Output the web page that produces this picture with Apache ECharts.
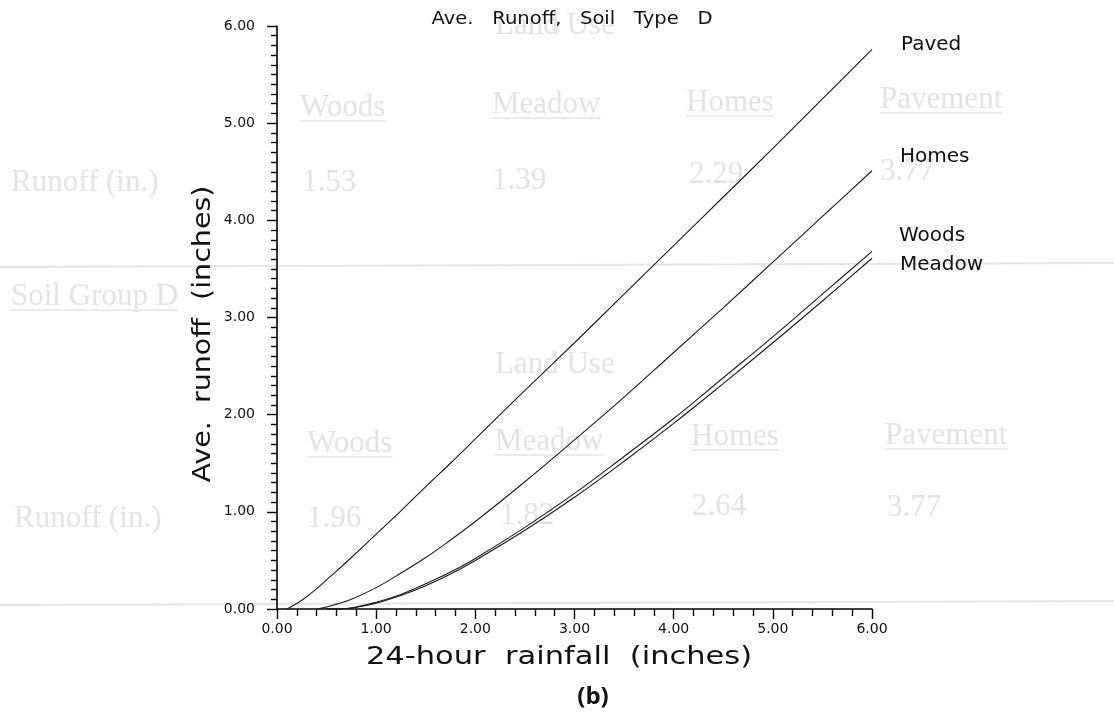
<!DOCTYPE html>
<html>
<head>
<meta charset="utf-8">
<script src="https://cdn.jsdelivr.net/npm/echarts@6/dist/echarts.min.js"></script>
<style>
  html, body { margin: 0; padding: 0; background: #ffffff; }
  #chart { width: 1114px; height: 719px; }
</style>
</head>
<body>
<div id="chart"></div>
<script>
// ---- data ----
const rain   = [0, 0.1, 0.25, 0.4, 0.5, 0.6, 0.75, 1, 1.25, 1.5, 1.75, 2, 2.5, 3, 3.5, 4, 4.5, 5, 5.5, 6];
const paved  = [null, 0, 0.09, 0.21, 0.30, 0.39, 0.53, 0.77, 1.01, 1.26, 1.5, 1.75, 2.25, 2.74, 3.24, 3.74, 4.24, 4.74, 5.25, 5.76];
const homes  = [null, null, null, 0, 0.02, 0.05, 0.10, 0.22, 0.37, 0.53, 0.71, 0.90, 1.31, 1.74, 2.18, 2.64, 3.10, 3.57, 4.04, 4.51];
const woods  = [null, null, null, null, 0, 0, 0.01, 0.07, 0.15, 0.26, 0.38, 0.52, 0.84, 1.19, 1.57, 1.96, 2.38, 2.80, 3.24, 3.68];
const meadow = [null, null, null, null, 0, 0, 0.01, 0.06, 0.14, 0.24, 0.36, 0.50, 0.81, 1.15, 1.52, 1.91, 2.32, 2.74, 3.17, 3.61];
const seriesNames = ['Paved', 'Homes', 'Woods', 'Meadow'];
const titleText = 'Ave.   Runoff,   Soil   Type   D';
const xName = '24-hour  rainfall  (inches)';
const yName = 'Ave.  runoff  (inches)';
const panelLabel = '(b)';

// faint background table showing through the scanned page: [text, left, centreY, underlined]
const ghostTexts = [
  ['Land Use', 495, 26, false],
  ['Woods', 300, 108, true], ['Meadow', 492, 105, true], ['Homes', 686, 103, true], ['Pavement', 880, 100, true],
  ['Runoff (in.)', 11, 183, false], ['1.53', 302, 183, false], ['1.39', 492, 181, false], ['2.29', 689, 175, false], ['3.77', 880, 172, false],
  ['Soil Group D', 11, 297, true],
  ['Land Use', 495, 365, false],
  ['Woods', 307, 444, true], ['Meadow', 495, 442, true], ['Homes', 691, 437, true], ['Pavement', 885, 436, true],
  ['Runoff (in.)', 14, 519, false], ['1.96', 307, 519, false], ['1.82', 500, 516, false], ['2.64', 692, 507, false], ['3.77', 887, 508, false]
];
const ghostLines = [267, 605];

function pairs(vals) {
  const out = [];
  rain.forEach((r, i) => { if (vals[i] !== null) out.push([r, vals[i]]); });
  return out;
}

const FONT = 'DejaVu Sans';
const GHOST_FONT = '31px "Liberation Serif"';
const measureCtx = document.createElement('canvas').getContext('2d');
measureCtx.font = GHOST_FONT;

const chart = echarts.init(document.getElementById('chart'), null, { renderer: 'canvas' });

const graphics = [];
ghostTexts.forEach(([t, x, y, ul]) => {
  graphics.push({
    type: 'text', x: x, y: y, z: -10, silent: true,
    style: { text: t, font: GHOST_FONT, fill: '#e3e3e3', align: 'left', verticalAlign: 'middle' }
  });
  if (ul) {
    const w = measureCtx.measureText(t).width;
    graphics.push({
      type: 'line', z: -10, silent: true,
      shape: { x1: x, y1: y + 13, x2: x + w, y2: y + 13 },
      style: { stroke: '#e4e4e4', lineWidth: 1.5 }
    });
  }
});
ghostLines.forEach(y => {
  graphics.push({
    type: 'line', z: -10, silent: true,
    shape: { x1: 0, y1: y, x2: 1114, y2: y - 4 },
    style: { stroke: '#e6e6e6', lineWidth: 2 }
  });
});
// title
graphics.push({
  type: 'text', x: 572, y: 20, z: 10, scaleX: 1.15,
  style: { text: titleText, font: '17px "DejaVu Sans"', fill: '#111', align: 'center', verticalAlign: 'middle' }
});
// axis names
graphics.push({
  type: 'text', x: 559, y: 657, z: 10, scaleX: 1.22,
  style: { text: xName, font: '25px "DejaVu Sans"', fill: '#111', align: 'center', verticalAlign: 'middle' }
});
graphics.push({
  type: 'text', x: 203, y: 334, z: 10, scaleX: 1.14, rotation: Math.PI / 2,
  style: { text: yName, font: '25px "DejaVu Sans"', fill: '#111', align: 'center', verticalAlign: 'middle' }
});
// panel label
graphics.push({
  type: 'text', x: 593, y: 697, z: 10,
  style: { text: panelLabel, font: 'bold 24px "Open Sans"', fill: '#111', align: 'center', verticalAlign: 'middle' }
});

const labelOffsets = { Paved: [29, -5], Homes: [28, -14], Woods: [27, -16], Meadow: [28, 7] };
const valuesByName = { Paved: paved, Homes: homes, Woods: woods, Meadow: meadow };

chart.setOption({
  animation: false,
  backgroundColor: '#ffffff',
  grid: { left: 277, right: 242, top: 26, bottom: 110, containLabel: false },
  xAxis: {
    type: 'value', min: 0, max: 6, interval: 1,
    axisLine: { show: true, lineStyle: { color: '#000', width: 1.6 } },
    axisTick: { show: true, length: 10, lineStyle: { color: '#000', width: 1.4 } },
    minorTick: { show: true, splitNumber: 5, length: 7, lineStyle: { color: '#000', width: 1.4 } },
    splitLine: { show: false },
    axisLabel: { fontFamily: FONT, fontSize: 14, color: '#111', margin: 13, formatter: v => v.toFixed(2) }
  },
  yAxis: {
    type: 'value', min: 0, max: 6, interval: 1,
    axisLine: { show: true, lineStyle: { color: '#000', width: 1.6 } },
    axisTick: { show: true, length: 10, lineStyle: { color: '#000', width: 1.4 } },
    minorTick: { show: true, splitNumber: 10, length: 6, lineStyle: { color: '#000', width: 1.4 } },
    splitLine: { show: false },
    axisLabel: { fontFamily: FONT, fontSize: 14, color: '#111', margin: 22, formatter: v => v.toFixed(2) }
  },
  graphic: graphics,
  series: seriesNames.map(n => ({
    name: n, type: 'line', data: pairs(valuesByName[n]),
    smooth: 0.4, showSymbol: false, symbol: 'none', z: 5,
    lineStyle: { color: '#1a1a1a', width: 1.1 },
    endLabel: {
      show: true, formatter: n, offset: labelOffsets[n], distance: 0,
      fontFamily: FONT, fontSize: 20, color: '#111', align: 'left', verticalAlign: 'middle'
    }
  }))
});
</script>
</body>
</html>
